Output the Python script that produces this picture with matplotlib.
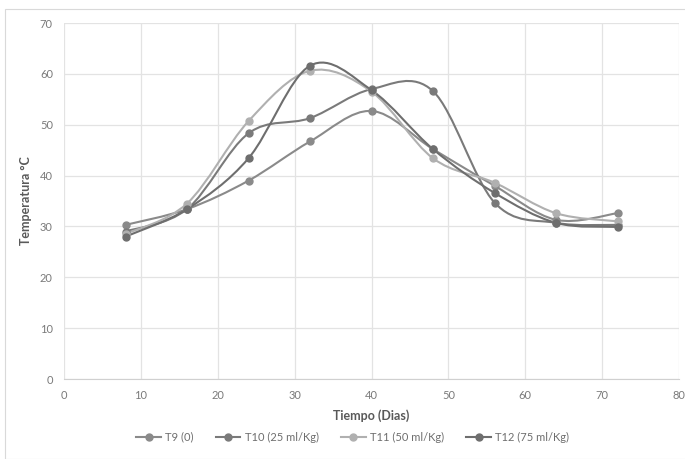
import matplotlib
matplotlib.use("Agg")
import matplotlib.pyplot as plt
from matplotlib.path import Path
from matplotlib.patches import PathPatch, Rectangle
from matplotlib.lines import Line2D
import numpy as np

plt.rcParams['font.family'] = ['Lato', 'DejaVu Sans']

dias = [8, 16, 24, 32, 40, 48, 56, 64, 72]
t9 = [30.3, 33.4, 39.0, 46.7, 52.7, 45.2, 38.0, 31.3, 32.6]
t10 = [29.0, 33.4, 48.3, 51.3, 57.0, 56.6, 34.7, 30.7, 30.3]
t11 = [28.5, 34.5, 50.7, 60.6, 56.5, 43.4, 38.6, 32.6, 31.0]
t12 = [28.0, 33.4, 43.4, 61.6, 56.8, 45.2, 36.6, 30.7, 29.9]
labels = ["T9 (0)", "T10 (25 ml/Kg)", "T11 (50 ml/Kg)", "T12 (75 ml/Kg)"]
colors = ["#8a8a8a", "#7a7a7a", "#b0b0b0", "#6e6e6e"]

fig = plt.figure(figsize=(6.85, 4.59), dpi=100)
ax = fig.add_axes([64/685, 1-379/459, 615/685, 356/459])

fig.patches.append(Rectangle((5/685, 0), 1, 1-9/459, transform=fig.transFigure,
                             fill=False, edgecolor="#d9d9d9", lw=0.8))


def smooth_path(x, y):
    pts = np.column_stack([x, y]).astype(float)
    n = len(pts)
    verts = [pts[0]]
    codes = [Path.MOVETO]
    for i in range(n - 1):
        p0 = pts[i - 1] if i > 0 else pts[i]
        p1 = pts[i]
        p2 = pts[i + 1]
        p3 = pts[i + 2] if i + 2 < n else pts[i + 1]
        c1 = p1 + (p2 - p0) / 6.0
        c2 = p2 - (p3 - p1) / 6.0
        verts += [c1, c2, p2]
        codes += [Path.CURVE4] * 3
    return Path(verts, codes)


for ys, c in zip([t9, t10, t11, t12], colors):
    ax.add_patch(PathPatch(smooth_path(dias, ys), fill=False, edgecolor=c, lw=1.5, zorder=3))
    ax.plot(dias, ys, linestyle="none", marker="o", ms=5, color=c, zorder=4)

ax.set_xlim(0, 80)
ax.set_ylim(0, 70)
ax.set_xticks(range(0, 81, 10))
ax.set_yticks(range(0, 71, 10))
ax.grid(True, color="#e3e3e3", lw=0.9)
ax.set_axisbelow(True)
for s in ["top", "right", "left"]:
    ax.spines[s].set_visible(False)
ax.spines["bottom"].set_color("#d0d0d0")
ax.tick_params(length=0, labelsize=8, labelcolor="#7a7a7a", pad=8)

ax.set_xlabel("Tiempo (Dias)", fontsize=9, fontweight="bold", color="#595959", labelpad=6)
ax.set_ylabel("Temperatura °C", fontsize=9, fontweight="bold", color="#595959", labelpad=6)

handles = [Line2D([0], [0], color=c, lw=1.5, marker="o", ms=5) for c in colors]
fig.legend(handles, labels, loc="center", bbox_to_anchor=(0.515, 1-437/459), ncol=4,
           frameon=False, fontsize=8, labelcolor="#6e6e6e", handlelength=2.2,
           columnspacing=2.0, handletextpad=0.4)

fig.savefig("out.png", dpi=100)
